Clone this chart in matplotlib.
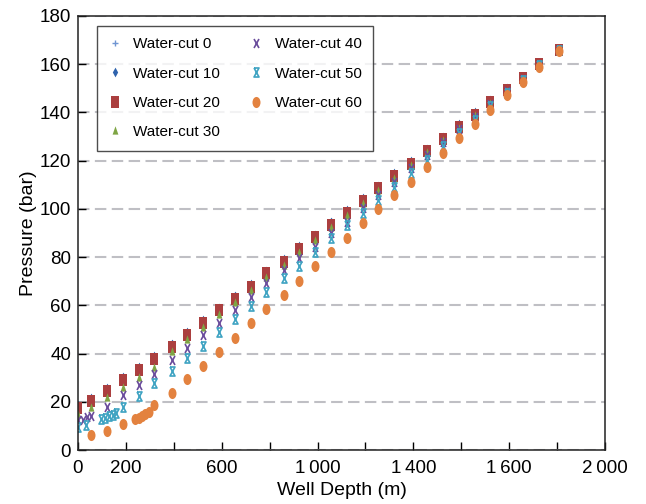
import matplotlib
matplotlib.use("Agg")
import matplotlib.pyplot as plt
import matplotlib.transforms as mtrans
from matplotlib.path import Path
import numpy as np

plt.rcParams["font.family"] = ["Liberation Sans", "DejaVu Sans"]

# depth columns shared by the upper series (m)
DEPTH = [0, 50, 110, 170, 230, 290, 355, 415, 475, 535, 595, 655, 715, 780,
         840, 900, 960, 1020, 1080, 1140, 1200, 1265, 1325, 1385, 1445, 1505,
         1565, 1630, 1690, 1750, 1825]

WC0 = [19.0, 21.6, 25.8, 30.3, 34.5, 39.0, 44.2, 49.0, 54.1, 59.2, 64.1, 69.0,
       74.6, 79.3, 84.7, 89.5, 94.8, 99.7, 104.7, 109.8, 114.9, 120.0, 125.0,
       130.0, 135.1, 140.2, 145.2, 150.1, 155.0, 160.8, 166.5]
WC10 = [18.7, 21.4, 25.6, 30.1, 34.3, 38.8, 44.0, 48.8, 53.9, 59.0, 63.9, 68.8,
        74.4, 79.1, 84.5, 89.3, 94.6, 99.5, 104.5, 109.6, 114.7, 119.8, 124.8,
        129.9, 135.0, 140.1, 145.1, 150.0, 154.9, 160.7, 166.4]
WC20 = [17.6, 20.3, 24.5, 29.0, 33.2, 37.7, 42.9, 47.7, 52.8, 57.9, 62.8, 67.7,
        73.3, 78.0, 83.4, 88.2, 93.5, 98.4, 103.4, 108.5, 113.6, 118.7, 123.8,
        128.9, 134.0, 139.1, 144.2, 149.1, 154.1, 160.0, 166.0]
WC30 = [14.5, 17.3, 21.4, 25.6, 29.7, 34.1, 40.8, 45.6, 50.5, 56.0, 60.8, 65.8,
        71.5, 76.3, 81.8, 86.7, 92.1, 97.1, 102.2, 107.4, 112.6, 117.8, 123.0,
        128.1, 133.3, 138.5, 143.6, 148.6, 153.6, 159.6, 165.8]
WC40 = [12.4, 18.0, 22.8, 27.0, 31.4, 37.3, 42.2, 47.7, 52.5, 58.0, 63.6, 69.1,
        74.7, 79.5, 84.3, 89.9, 94.7, 100.3, 105.8, 111.3, 116.8, 122.3, 127.7,
        133.0, 138.3, 143.5, 148.7, 153.8, 159.7, 166.0]
WC40_DEPTH = [0, 110, 170, 230, 290, 355, 415, 475, 535, 595, 655, 715, 780,
              840, 900, 960, 1020, 1080, 1140, 1200, 1265, 1325, 1385, 1445,
              1505, 1565, 1630, 1690, 1750, 1825]
# extra near-surface readings for water-cut 40
WC40_TOP_DEPTH = [20, 35, 50]
WC40_TOP = [12.6, 13.5, 14.2]

WC50_DEPTH = [0, 30, 88, 103, 118, 132, 144, 170, 230, 290, 355, 415, 475,
              535, 595, 655, 715, 780, 840, 900, 960, 1020, 1080, 1140, 1200,
              1265, 1325, 1385, 1445, 1505, 1565, 1630, 1690, 1750, 1825]
WC50 = [9.5, 10.4, 12.9, 13.4, 14.0, 14.5, 15.2, 18.0, 22.5, 27.9, 32.8, 38.0,
        43.3, 48.8, 54.2, 59.8, 65.7, 71.2, 76.3, 82.2, 87.8, 93.3, 98.2,
        103.7, 109.2, 114.8, 120.3, 126.0, 131.5, 137.0, 142.5, 148.0, 153.4,
        159.5, 165.8]

WC60_DEPTH = [50, 110, 170, 217, 230, 243, 255, 268, 290, 355, 415, 475, 535,
              595, 655, 715, 780, 840, 900, 960, 1020, 1080, 1140, 1200, 1265,
              1325, 1385, 1445, 1505, 1565, 1630, 1690, 1750, 1825]
WC60 = [6.2, 7.9, 10.6, 12.9, 13.4, 14.1, 14.9, 15.9, 18.7, 23.5, 29.3, 35.0,
        40.8, 46.6, 52.5, 58.3, 64.3, 70.2, 76.3, 82.2, 88.1, 94.0, 99.8,
        105.8, 111.3, 117.3, 123.3, 129.3, 135.2, 141.0, 147.2, 152.7, 158.7,
        165.5]

XTICK_LABELS = ["0", "200", "", "600", "", "1\u2009000", "", "1\u2009400", "",
                "1\u2009600", "", "2\u2009000"]


def tall(path, sx):
    return path.transformed(mtrans.Affine2D().scale(sx, 1.0))


SQUARE = tall(Path([(-1, -1), (1, -1), (1, 1), (-1, 1), (-1, -1)], closed=True), 0.68)
OVAL = tall(Path.unit_circle(), 0.72)
TRI = tall(Path([(0, 1), (-0.9, -0.6), (0.9, -0.6), (0, 1)], closed=True), 0.62)
DIAMOND = tall(Path.unit_regular_polygon(4), 0.55)
CROSS = tall(Path([(-1, -1), (1, 1), (-1, 1), (1, -1)],
                  [Path.MOVETO, Path.LINETO, Path.MOVETO, Path.LINETO]), 0.55)
HOURGLASS = tall(Path([(-1, 1), (1, 1), (-1, -1), (1, -1), (-1, 1)],
                      [Path.MOVETO] + [Path.LINETO] * 4), 0.55)

C_WC0 = "#6f95d2"
C_WC10 = "#2f63ad"
C_WC20 = "#ab3f3f"
C_WC30 = "#7ea544"
C_WC40 = "#6a4c9c"
C_WC50 = "#3ea3c2"
C_WC60 = "#e3823f"
GRID = "#bfbfc4"

fig = plt.figure(figsize=(6.46, 5.04), dpi=100)
ax = fig.add_axes([0.1207, 0.1071, 0.8158, 0.8612])

ax.plot(DEPTH, WC0, ls="none", marker="+", ms=5, mew=1.0, color=C_WC0, label="Water-cut 0")
ax.plot(DEPTH, WC10, ls="none", marker=DIAMOND, ms=7, mew=0, color=C_WC10, label="Water-cut 10")
ax.plot(DEPTH, WC20, ls="none", marker=SQUARE, ms=8.5, mew=0, color=C_WC20, label="Water-cut 20")
ax.plot(DEPTH, WC30, ls="none", marker=TRI, ms=7.5, mew=0, color=C_WC30, label="Water-cut 30")
ax.plot(WC40_DEPTH, WC40, ls="none", marker=CROSS, ms=6.5, mew=1.2, color=C_WC40,
        mfc="none", label="Water-cut 40")
ax.plot(WC40_TOP_DEPTH, WC40_TOP, ls="none", marker=CROSS, ms=6.5, mew=1.2,
        color=C_WC40, mfc="none")
ax.plot(WC50_DEPTH, WC50, ls="none", marker=HOURGLASS, ms=6.5, mew=1.2, color=C_WC50,
        mfc="none", label="Water-cut 50")
ax.plot(WC60_DEPTH, WC60, ls="none", marker=OVAL, ms=8, mew=0, color=C_WC60,
        label="Water-cut 60")

ax.set_xlim(0, 2000)
ax.set_ylim(0, 180)
ax.set_xticks(np.linspace(0, 2000, 12))
ax.set_xticklabels(XTICK_LABELS)
ax.set_yticks(np.arange(0, 181, 20))
ax.tick_params(direction="in", length=6, width=1.0, labelsize=13.5, pad=5)
ax.tick_params(axis="x", pad=7)
ax.grid(axis="y", color=GRID, linestyle=(0, (5.5, 2.6)), linewidth=1.5)
ax.set_axisbelow(True)
for s in ax.spines.values():
    s.set_linewidth(1.1)
    s.set_color("#222222")

ax.set_xlabel("Well Depth (m)", fontsize=14, labelpad=4)
ax.set_ylabel("Pressure (bar)", fontsize=14, labelpad=2)

leg = ax.legend(ncol=2, loc="upper left", bbox_to_anchor=(0.036, 0.977),
                fontsize=11, frameon=True, fancybox=False, handlelength=0.8,
                handletextpad=0.8, labelspacing=1.0, columnspacing=2.0,
                borderpad=0.75, borderaxespad=0)
leg.get_frame().set_edgecolor("#222222")
leg.get_frame().set_linewidth(1.0)

plt.savefig("out.png", dpi=100)
plt.close()
